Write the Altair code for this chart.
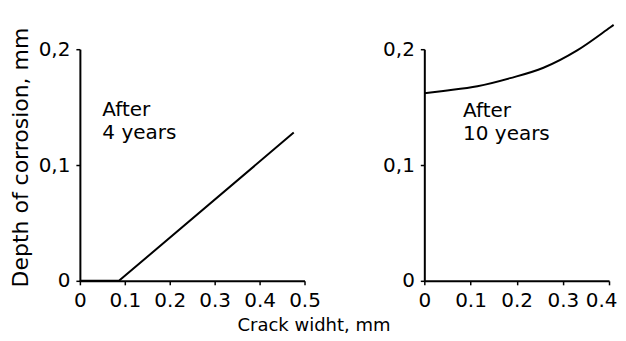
import altair as alt
import pandas as pd

# ---- data ----
left_x = [0.0, 0.087, 0.476]
left_y = [0.0, 0.0, 0.128]

right_x = [0.0, 0.041, 0.115, 0.186, 0.258, 0.331, 0.403, 0.41]
right_y = [0.162, 0.164, 0.168, 0.175, 0.184, 0.199, 0.219, 0.221]

x_ticks_left = [0, 0.1, 0.2, 0.3, 0.4, 0.5]
x_ticks_right = [0, 0.1, 0.2, 0.3, 0.4]
y_ticks = [0, 0.1, 0.2]

label_left = "After\n4 years"
label_right = "After\n10 years"
y_title = "Depth of corrosion, mm"
x_title = "Crack widht, mm"

FONT = "DejaVu Sans"
ylab = "datum.value == 0 ? '0' : replace(format(datum.value, '.1f'), '.', ',')"
xlab = "datum.value == 0 ? '0' : format(datum.value, '.1f')"

left_df = pd.DataFrame({"x": left_x, "y": left_y})
right_df = pd.DataFrame({"x": right_x, "y": right_y})

left_line = alt.Chart(left_df).mark_line(color="black", strokeWidth=2, clip=False).encode(
    x=alt.X("x:Q", scale=alt.Scale(domain=[0, 0.5], nice=False),
            axis=alt.Axis(values=x_ticks_left, labelExpr=xlab, title=x_title,
                          titleX=234, titleY=50, titleAlign="center",
                          titleBaseline="alphabetic", titleFontSize=18,
                          titleFontWeight="normal", titleFont=FONT, titleColor="black")),
    y=alt.Y("y:Q", scale=alt.Scale(domain=[0, 0.2], nice=False),
            axis=alt.Axis(values=y_ticks, labelExpr=ylab, title=y_title,
                          titleX=-52, titleY=108, titleAngle=-90, titleAlign="center",
                          titleBaseline="alphabetic", titleFontSize=22,
                          titleFontWeight="normal", titleFont=FONT, titleColor="black")),
)
left_text = alt.Chart(pd.DataFrame({"t": [label_left]})).mark_text(
    align="left", baseline="top", font=FONT, fontSize=20, lineBreak="\n",
    lineHeight=23, color="black"
).encode(x=alt.datum(0.05), y=alt.datum(0.156), text="t:N")

left = alt.layer(left_line, left_text).properties(width=225, height=232)

right_line = alt.Chart(right_df).mark_line(color="black", strokeWidth=2, clip=False,
                                           interpolate="monotone").encode(
    x=alt.X("x:Q", scale=alt.Scale(domain=[0, 0.4], nice=False),
            axis=alt.Axis(values=x_ticks_right, labelExpr=xlab, title=None,
                          labelAlign={"condition": {"test": "datum.value >= 0.39", "value": "right"},
                                      "value": "center"},
                          labelOffset={"condition": {"test": "datum.value >= 0.39", "value": 8},
                                       "value": 0})),
    y=alt.Y("y:Q", scale=alt.Scale(domain=[0, 0.2], nice=False),
            axis=alt.Axis(values=y_ticks, labelExpr=ylab, title=None)),
)
right_text = alt.Chart(pd.DataFrame({"t": [label_right]})).mark_text(
    align="left", baseline="top", font=FONT, fontSize=20, lineBreak="\n",
    lineHeight=23, color="black"
).encode(x=alt.datum(0.084), y=alt.datum(0.155), text="t:N")

right = alt.layer(right_line, right_text).properties(width=185, height=232)

chart = alt.hconcat(left, right, spacing=120, bounds="flush").configure_view(
    stroke=None
).configure_axis(
    grid=False, domainColor="black", domainWidth=2, tickColor="black",
    tickWidth=1.5, tickSize=4, labelFont=FONT, labelFontSize=20,
    labelColor="black", labelPadding=6, labelFlush=False, labelOverlap=False
).properties(
    padding={"left": 1, "top": 12, "right": 0, "bottom": 5},
    background="white"
)

chart.save("out.html", embed_options={"renderer": "svg", "actions": False})
